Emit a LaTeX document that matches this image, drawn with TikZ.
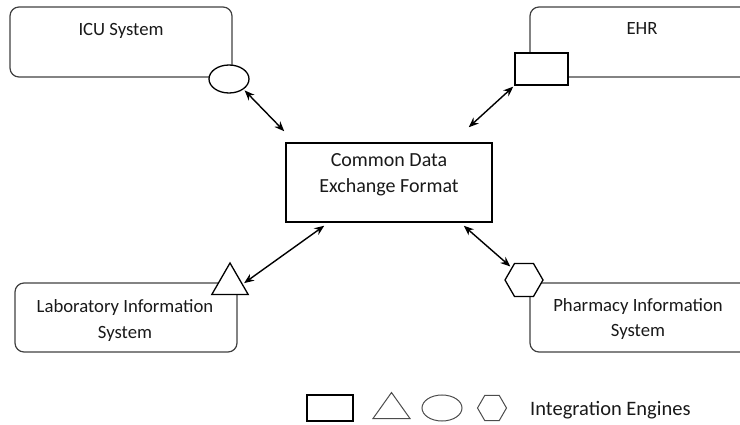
\documentclass[tikz,border=0pt]{standalone}
\usepackage{fontspec}
\setmainfont{Carlito}
\usetikzlibrary{shapes.geometric,arrows.meta}
\begin{document}
\begin{tikzpicture}[x=1pt, y=-1pt, >={Stealth[length=10pt,width=8pt]},
    sysbox/.style={draw=black!75, line width=1.2pt, rounded corners=9pt, minimum width=222pt, minimum height=70pt, inner sep=0pt},
    systext/.style={text=black!90, align=center, anchor=base, inner sep=0pt, font=\fontsize{18.7}{25.5}\selectfont},
    port/.style={draw, line width=1.3pt, fill=white, inner sep=0pt},
    legendmark/.style={draw=black!70, line width=1pt, inner sep=0pt},
    link/.style={<->, line width=1.4pt}]

  \useasboundingbox (0,0) rectangle (740,425);
  \clip (0,0) rectangle (740,425);

  % systems
  \node [sysbox] (icu) at (121,42) {};
  \node [sysbox, minimum width=224pt] (ehr) at (642,42) {};
  \node [sysbox, minimum height=69pt] (lab) at (126,317.5) {};
  \node [sysbox, minimum height=69pt] (pharm) at (641,317.5) {};
  \node [systext] (icu-text) at (121,36) {ICU System};
  \node [systext] (ehr-text) at (642,35) {EHR};
  \node [systext] (lab-text) at (125,338) {Laboratory Information\\System};
  \node [systext] (pharm-text) at (638,337) {Pharmacy Information\\System};

  % common format
  \node [draw, line width=1.5pt, minimum width=206pt, minimum height=79pt] (cdef) at (389,182.5) {};
  \node [systext, font=\fontsize{20}{26}\selectfont] (cdef-text) at (389,193) {Common Data\\Exchange Format};

  % integration engines
  \node [port, ellipse, minimum width=40pt, minimum height=28pt] (icuport) at (229,79) {};
  \node [port, rectangle, minimum width=53pt, minimum height=32pt] (ehrport) at (541.5,69) {};
  \node [port, regular polygon, regular polygon sides=3, minimum size=42pt] (labport) at (230,284) {};
  \node [port, regular polygon, regular polygon sides=6, minimum size=38pt] (pharmport) at (524,280) {};

  % links
  \coordinate (icu-end) at ([xshift=-1pt,yshift=11pt]cdef.north west);
  \coordinate (ehr-end) at ([xshift=-24pt,yshift=15pt]cdef.north east);
  \coordinate (lab-end) at ([xshift=39pt,yshift=-3pt]cdef.south west);
  \coordinate (pharm-end) at ([xshift=-29pt,yshift=-3pt]cdef.south east);
  \foreach \p/\e in {icuport.south east/icu-end, ehrport.south west/ehr-end, labport.east/lab-end, pharmport.north west/pharm-end}
      \draw [link, shorten <=1.5pt] (\p) -- (\e);

  % legend
  \node [legendmark, draw=black, line width=1.3pt, minimum width=46pt, minimum height=26pt] (key-rect) at (330,408) {};
  \node [legendmark, isosceles triangle, isosceles triangle stretches, shape border rotate=90, minimum width=37pt, minimum height=26pt] (key-tri) at (391.5,409) {};
  \node [legendmark, ellipse, minimum width=40pt, minimum height=26pt] (key-ell) at (442,408) {};
  \node [legendmark, regular polygon, regular polygon sides=6, minimum size=29pt] (key-hex) at (492,408) {};
  \node [systext, anchor=west, font=\fontsize{20.5}{25}\selectfont] (key-text) at (530,410) {Integration Engines};

\end{tikzpicture}
\end{document}
